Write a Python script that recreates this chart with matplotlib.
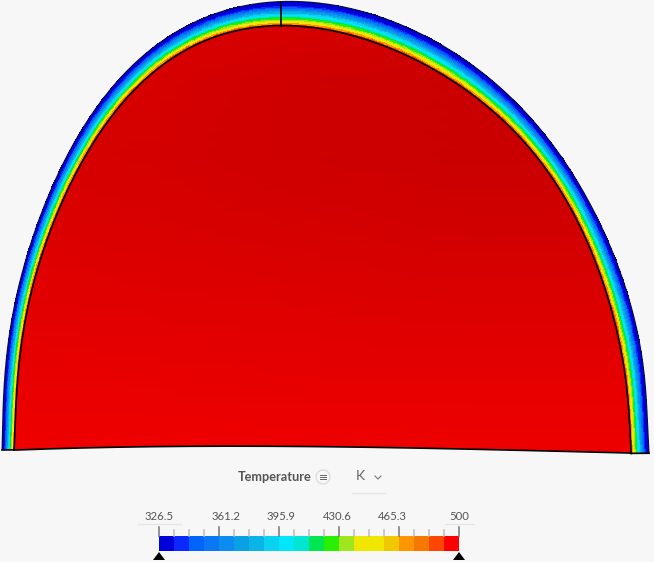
import numpy as np
import matplotlib
matplotlib.use('Agg')
import matplotlib.pyplot as plt
from matplotlib.colors import ListedColormap, BoundaryNorm, LinearSegmentedColormap
from matplotlib.patches import Polygon, Circle

# dome outline, in pixels
outer_x = [2, 4, 10, 20, 33, 47, 67, 97, 123, 150, 197, 230, 263, 281, 323, 363, 413, 447, 491, 521, 554, 587, 622, 634, 644, 647, 649]
outer_y = [450, 390, 333, 280, 233, 200, 157, 110, 75, 50, 18, 7, 3, 3, 5, 13, 30, 47, 80, 107, 147, 197, 280, 317, 370, 410, 453]
inner_x = [14, 17, 23, 33, 47, 61, 82, 112, 138, 163, 205, 235, 265, 281, 321, 358, 405, 437, 477, 505, 537, 570, 603, 614, 625, 629, 631]
inner_y = [450, 390, 336, 283, 238, 203, 165, 119, 86, 65, 37, 29, 27, 26, 29, 39, 56, 72, 96, 121, 157, 208, 284, 320, 372, 412, 453]
top_joint = 13
floor_x = [14, 150, 300, 450, 631]
floor_y = [450, 447, 446, 449, 453]

# colour scale
scale_ticks = [326.5, 361.2, 395.9, 430.6, 465.3, 500.0]
scale_labels = ['326.5', '361.2', '395.9', '430.6', '465.3', '500']
scale_colors = ['#0000d8', '#0a28ff', '#0064ff', '#0a78f5', '#0a8cf0', '#0aa0e6', '#0ab4e6', '#0ad2f0',
                '#00e6fa', '#00e6d2', '#00e650', '#28f000', '#a0e61e', '#f0e600', '#f0e600', '#f0c800',
                '#ff9600', '#f57800', '#ff4600', '#ff0000']
# temperature through the wall, outside to inside
wall_temps = [331, 331, 331, 331, 340, 348, 357, 366, 374, 383, 392, 400, 409, 418, 426, 435, 444, 452, 470, 487]

# interior temperature shade on a coarse grid
grid_x = [0, 160, 320, 480, 654]
grid_y = [0, 80, 160, 240, 320, 400, 460]
grid_t = [[0.50, 0.50, 0.45, 0.35, 0.30],
          [0.40, 0.35, 0.15, 0.05, 0.10],
          [0.40, 0.30, 0.15, 0.05, 0.10],
          [0.55, 0.45, 0.35, 0.25, 0.30],
          [0.70, 0.65, 0.60, 0.55, 0.55],
          [0.85, 0.85, 0.80, 0.80, 0.80],
          [1.00, 1.00, 1.00, 0.95, 0.95]]


def smooth(xs, ys, deg=9, n=300):
    # the read points are a bit noisy, so fit them instead of going through them
    xs = np.array(xs, dtype=float)
    ys = np.array(ys, dtype=float)
    s = np.r_[0, np.cumsum(np.hypot(np.diff(xs), np.diff(ys)))]
    s = s / s[-1]
    t = np.linspace(0, 1, n)
    fx = np.polyval(np.polyfit(s - 0.5, xs, deg), t - 0.5)
    fy = np.polyval(np.polyfit(s - 0.5, ys, deg), t - 0.5)
    return np.column_stack([fx, fy])


plt.rcParams['font.family'] = ['Lato', 'DejaVu Sans']
fig = plt.figure(figsize=(6.54, 5.62), dpi=100, facecolor='#f7f7f7')
ax = fig.add_axes([0, 0, 1, 1])
ax.set_xlim(0, 654)
ax.set_ylim(562, 0)
ax.axis('off')

outer = smooth(outer_x, outer_y)
inner = smooth(inner_x, inner_y)
floor = smooth(floor_x, floor_y, deg=3)
floor[0] = inner[0]
floor[-1] = inner[-1]

cmap = ListedColormap(scale_colors)
bounds = np.linspace(scale_ticks[0], scale_ticks[-1], len(scale_colors) + 1)
norm = BoundaryNorm(bounds, cmap.N)

# wall band
frac = np.linspace(0, 1, len(wall_temps) + 1)
band_x = np.outer(1 - frac, outer[:, 0]) + np.outer(frac, inner[:, 0])
band_y = np.outer(1 - frac, outer[:, 1]) + np.outer(frac, inner[:, 1])
band_c = np.tile(np.array(wall_temps)[:, None], (1, outer.shape[0] - 1))
ax.pcolormesh(band_x, band_y, band_c, cmap=cmap, norm=norm, shading='flat', antialiased=False, linewidth=0)

# interior
reds = LinearSegmentedColormap.from_list('reds', ['#c80000', '#f00000'])
im = ax.pcolormesh(grid_x, grid_y, np.array(grid_t), cmap=reds, vmin=0, vmax=1, shading='gouraud')
core = Polygon(np.vstack([inner, floor[::-1]]), closed=True, transform=ax.transData, facecolor='none', edgecolor='none')
ax.add_patch(core)
im.set_clip_path(core)

# outlines
ax.plot(outer[:, 0], outer[:, 1], color='#101030', lw=0.8)
ax.plot(inner[:, 0], inner[:, 1], color='black', lw=1.2)
ax.plot(floor[:, 0], floor[:, 1], color='black', lw=1.2)
ax.plot([outer[0, 0], inner[0, 0]], [outer[0, 1], inner[0, 1]], color='black', lw=1.2)
ax.plot([outer[-1, 0], inner[-1, 0]], [outer[-1, 1], inner[-1, 1]], color='black', lw=1.2)
ax.plot([outer_x[top_joint], inner_x[top_joint]], [outer_y[top_joint], inner_y[top_joint]], color='black', lw=1.2)

# legend title row
ax.text(275, 477, 'Temperature', ha='center', va='center', fontsize=9.2, fontweight='bold', color='#555555')
ax.add_patch(Circle((323, 477), 7, facecolor='none', edgecolor='#dddddd', lw=1))
for dy in [-2, 0, 2]:
    ax.plot([320, 326], [477 + dy, 477 + dy], color='#666666', lw=0.7)
ax.text(360, 476, 'K', ha='center', va='center', fontsize=10, color='#666666')
ax.plot([375, 378, 381], [476, 479, 476], color='#777777', lw=0.8)
ax.plot([352, 386], [493, 493], color='#e6e6e6', lw=1)

# colour bar
bar_x = np.linspace(159, 459, len(scale_colors) + 1)
ax.pcolormesh(bar_x, [536, 551], np.array([(bounds[:-1] + bounds[1:]) / 2]), cmap=cmap, norm=norm)
for i, x in enumerate(bar_x):
    if i % 4 == 0:
        ax.plot([x, x], [527, 536], color='#777777', lw=1.1)
    else:
        ax.plot([x, x], [530, 536], color='#bbbbbb', lw=1.1)
label_x = [159, 226, 281, 337, 392, 459]
for x, lab in zip(label_x, scale_labels):
    ax.text(x, 516, lab, ha='center', va='center', fontsize=8.2, color='#555555')
ax.plot([138, 181], [524, 524], color='#e6e6e6', lw=1)
ax.plot([445, 474], [524, 524], color='#e6e6e6', lw=1)
for x in [159, 459]:
    ax.fill([x - 6, x, x + 6], [560, 552, 560], color='black', lw=0)

fig.savefig('out.png', dpi=100, facecolor=fig.get_facecolor())
